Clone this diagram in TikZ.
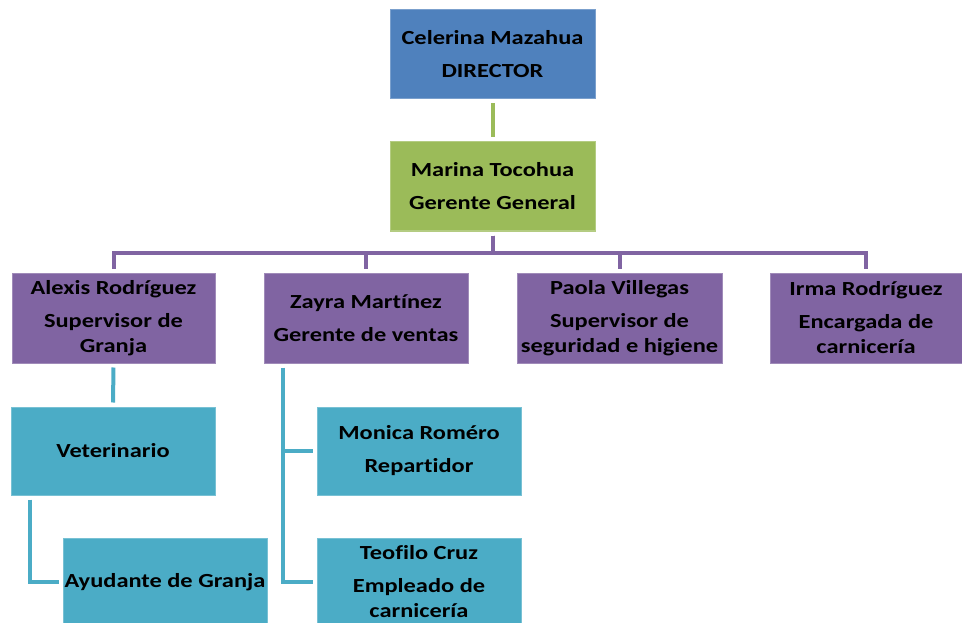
\documentclass[tikz,border=0pt]{standalone}
\usepackage{fontspec}
\setmainfont{Carlito}[FakeStretch=1.22, Ligatures=NoCommon]
\usetikzlibrary{calc}
\definecolor{cblue}{HTML}{4F81BD}
\definecolor{cgreen}{HTML}{9BBB59}
\definecolor{cpurple}{HTML}{8064A2}
\definecolor{cteal}{HTML}{4BACC6}
\tikzset{
  box/.style={rectangle, inner sep=0pt, line width=1pt, align=center,
    font=\fontsize{20}{25}\selectfont\bfseries, text=black},
  bluebox/.style={box, fill=cblue, draw=cblue!75!white},
  greenbox/.style={box, fill=cgreen, draw=cgreen!75!white},
  purplebox/.style={box, fill=cpurple, draw=cpurple!75!white},
  tealbox/.style={box, fill=cteal, draw=cteal!75!white},
  link/.style={line width=4pt, shorten <=4pt, shorten >=4pt},
}
\newcommand{\gap}{\\[8pt]}
\begin{document}
\begin{tikzpicture}[x=1pt,y=-1pt]
\useasboundingbox (0,0) rectangle (962,623);
\begin{scope}
\clip (0,0) rectangle (962,623);
% top levels
\node[bluebox, minimum width=205pt, minimum height=89pt] (dir) at (492.5,54.5)
  {Celerina Mazahua\gap DIRECTOR};
\node[greenbox, minimum width=205pt, minimum height=89pt] (ger) at (492.5,186.5)
  {Marina Tocohua\gap Gerente General};
% second level
\node[purplebox, minimum width=203pt, minimum height=90pt] (alx) at (113.5,318)
  {Alexis Rodríguez\gap Supervisor de\\Granja};
\node[purplebox, minimum width=204pt, minimum height=90pt] (zay) at (366,318)
  {Zayra Martínez\gap Gerente de ventas};
\node[purplebox, minimum width=205pt, minimum height=90pt] (pao) at (619.5,318)
  {Paola Villegas\gap Supervisor de\\seguridad e higiene};
\node[purplebox, minimum width=192pt, minimum height=90pt] (irm) at (866,318)
  {Irma Rodríguez\gap Encargada de\\carnicería};
% third level
\node[tealbox, minimum width=204pt, minimum height=88pt] (vet) at (113,451)
  {Veterinario};
\node[tealbox, minimum width=204pt, minimum height=88pt] (ayu) at (165,582)
  {Ayudante de Granja};
\node[tealbox, minimum width=204pt, minimum height=88pt] (mon) at (419,451)
  {Monica Roméro\gap Repartidor};
\node[tealbox, minimum width=204pt, minimum height=88pt] (teo) at (419,582)
  {Teofilo Cruz\gap Empleado de\\carnicería};
\end{scope}
% connectors
\draw[link, cgreen] (dir.south) -- (ger.south |- ger.north);
\coordinate (bus) at (0,253);
\foreach \c in {alx,zay,pao,irm}
  \draw[link, cpurple] (ger.south) -- (ger.south |- bus) -| (\c.north);
\draw[link, cteal] (alx.south) -- (vet.north);
\coordinate (vt) at ($(vet.south west)+(19,0)$);
\draw[link, cteal] (vt) |- (ayu.west);
\coordinate (zt) at ($(zay.south west)+(19,0)$);
\draw[link, cteal] (zt) |- (teo.west);
\draw[link, cteal, shorten <=0pt] (zt |- mon.west) -- (mon.west);
\end{tikzpicture}
\end{document}
